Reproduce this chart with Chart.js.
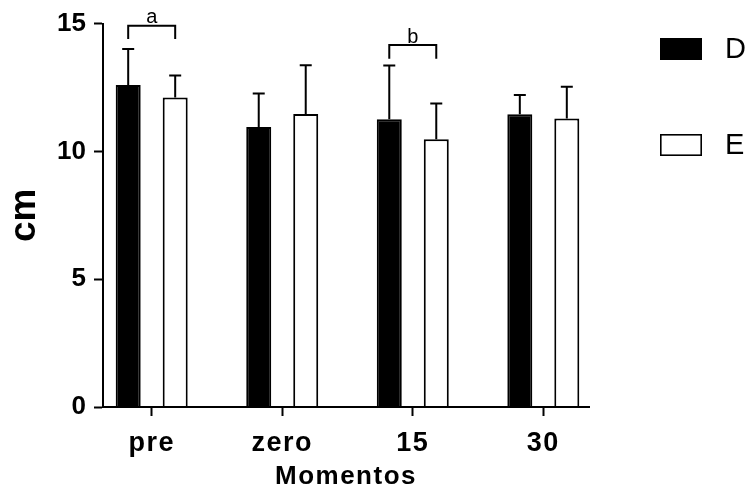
<!DOCTYPE html>
<html>
<head>
<meta charset="utf-8">
<script src="https://cdn.jsdelivr.net/npm/chart.js@4/dist/chart.umd.min.js"></script>
<style>
  html, body { margin: 0; padding: 0; background: #fff; }
  #wrap { width: 750px; height: 496px; }
</style>
</head>
<body>
<div id="wrap"><canvas id="c" width="750" height="496"></canvas></div>
<script>
// Length (cm) at each moment, mean and upper error per group
const categories = ['pre', 'zero', '15', '30'];
const seriesNames = ['D', 'E'];
const valuesD = [12.6, 10.95, 11.26, 11.45];
const errorsD = [1.41, 1.32, 2.10, 0.76];
const valuesE = [12.11, 11.46, 10.48, 11.29];
const errorsE = [0.86, 1.91, 1.39, 1.24];
const yTickValues = [0, 5, 10, 15];

// Significance brackets between D and E at a moment
const markCategories = [0, 2];
const markLetters = ['a', 'b'];
const markLevels = [14.92, 14.16];
const markLegEnds = [14.4, 13.62];

const FONT = '"Liberation Sans", Arial, Helvetica, sans-serif';
Chart.defaults.font.family = FONT;
Chart.defaults.color = '#000';

const toPoints = vals => vals.map((v, i) => ({ x: i, y: v }));

const annotations = {
  id: 'annotations',
  beforeDraw(chart) {
    chart.ctx.letterSpacing = '0px';
  },
  afterDatasetsDraw(chart) {
    const ctx = chart.ctx;
    const y = chart.scales.y;
    ctx.save();
    ctx.strokeStyle = '#000';
    ctx.fillStyle = '#000';
    ctx.lineWidth = 2;
    // upward error bars with caps
    chart.data.datasets.forEach((ds, di) => {
      const meta = chart.getDatasetMeta(di);
      meta.data.forEach((bar, i) => {
        const v = ds.data[i].y;
        const y0 = y.getPixelForValue(v);
        const y1 = y.getPixelForValue(v + ds.errors[i]);
        ctx.beginPath();
        ctx.moveTo(bar.x, y0);
        ctx.lineTo(bar.x, y1);
        ctx.moveTo(bar.x - 6, y1);
        ctx.lineTo(bar.x + 6, y1);
        ctx.stroke();
      });
    });
    // brackets with letters
    const metaD = chart.getDatasetMeta(0);
    const metaE = chart.getDatasetMeta(1);
    ctx.font = '20px ' + FONT;
    ctx.textAlign = 'center';
    ctx.textBaseline = 'alphabetic';
    markCategories.forEach((c, k) => {
      const xL = metaD.data[c].x;
      const xR = metaE.data[c].x;
      const yTop = y.getPixelForValue(markLevels[k]);
      const yLeg = y.getPixelForValue(markLegEnds[k]);
      ctx.beginPath();
      ctx.moveTo(xL, yLeg);
      ctx.lineTo(xL, yTop);
      ctx.lineTo(xR, yTop);
      ctx.lineTo(xR, yLeg);
      ctx.stroke();
      ctx.fillText(markLetters[k], (xL + xR) / 2, yTop - 2.5);
    });
    ctx.restore();
    // category axis text is drawn after this point
    ctx.letterSpacing = '1.5px';
  },
  afterDraw(chart) {
    const ctx = chart.ctx;
    ctx.letterSpacing = '0px';
    ctx.save();
    // legend on the right
    chart.data.datasets.forEach((ds, i) => {
      const bx = 660, by = 38 + i * 96;
      ctx.fillStyle = ds.backgroundColor;
      ctx.fillRect(bx, by, 42, 22);
      if (ds.backgroundColor !== '#000') {
        ctx.strokeStyle = '#000';
        ctx.lineWidth = 1.6;
        ctx.strokeRect(bx + 0.8, by + 0.8, 40.4, 20.4);
      }
      ctx.fillStyle = '#000';
      ctx.font = '29px ' + FONT;
      ctx.textAlign = 'left';
      ctx.textBaseline = 'middle';
      ctx.fillText(ds.label, 725, by + 12);
    });
    ctx.restore();
  }
};

new Chart(document.getElementById('c'), {
  type: 'bar',
  data: {
    datasets: [
      {
        label: seriesNames[0],
        data: toPoints(valuesD),
        errors: errorsD,
        backgroundColor: '#000',
        borderColor: '#000',
        borderWidth: 2
      },
      {
        label: seriesNames[1],
        data: toPoints(valuesE),
        errors: errorsE,
        backgroundColor: '#fff',
        borderColor: '#000',
        borderWidth: 2
      }
    ]
  },
  options: {
    responsive: false,
    animation: false,
    devicePixelRatio: 1,
    categoryPercentage: 0.72,
    barPercentage: 0.532,
    layout: { padding: { top: 22, right: 161, bottom: 0, left: 0 } },
    plugins: {
      legend: { display: false },
      tooltip: { enabled: false }
    },
    scales: {
      x: {
        type: 'linear',
        offset: false,
        min: -0.373,
        max: 3.35,
        afterBuildTicks: s => { s.ticks = categories.map((_, i) => ({ value: i })); },
        afterFit: s => { s.height = 89; },
        ticks: {
          callback: v => categories[v],
          font: { size: 27, weight: 'bold' },
          padding: 11,
          maxRotation: 0,
          autoSkip: false,
          z: 1
        },
        grid: {
          offset: false,
          drawOnChartArea: false,
          drawTicks: true,
          tickLength: 9,
          tickWidth: 2,
          tickColor: '#000',
          z: 1
        },
        border: { display: true, color: '#000', width: 2, z: 1 },
        title: {
          display: true,
          text: 'Momentos',
          font: { size: 26, weight: 'bold' },
          padding: { top: 0, bottom: 4 }
        }
      },
      y: {
        min: 0,
        max: 15,
        afterBuildTicks: s => { s.ticks = yTickValues.map(v => ({ value: v })); },
        afterFit: s => { s.width = 103; },
        ticks: {
          font: { size: 26, weight: 'bold' },
          padding: 8
        },
        grid: {
          drawOnChartArea: false,
          drawTicks: true,
          tickLength: 9,
          tickWidth: 2,
          tickColor: '#000'
        },
        border: { display: true, color: '#000', width: 2 },
        title: {
          display: true,
          text: 'cm',
          font: { size: 37, weight: 'bold' },
          padding: { top: 3, bottom: 0 }
        }
      }
    }
  },
  plugins: [annotations]
});
</script>
</body>
</html>
